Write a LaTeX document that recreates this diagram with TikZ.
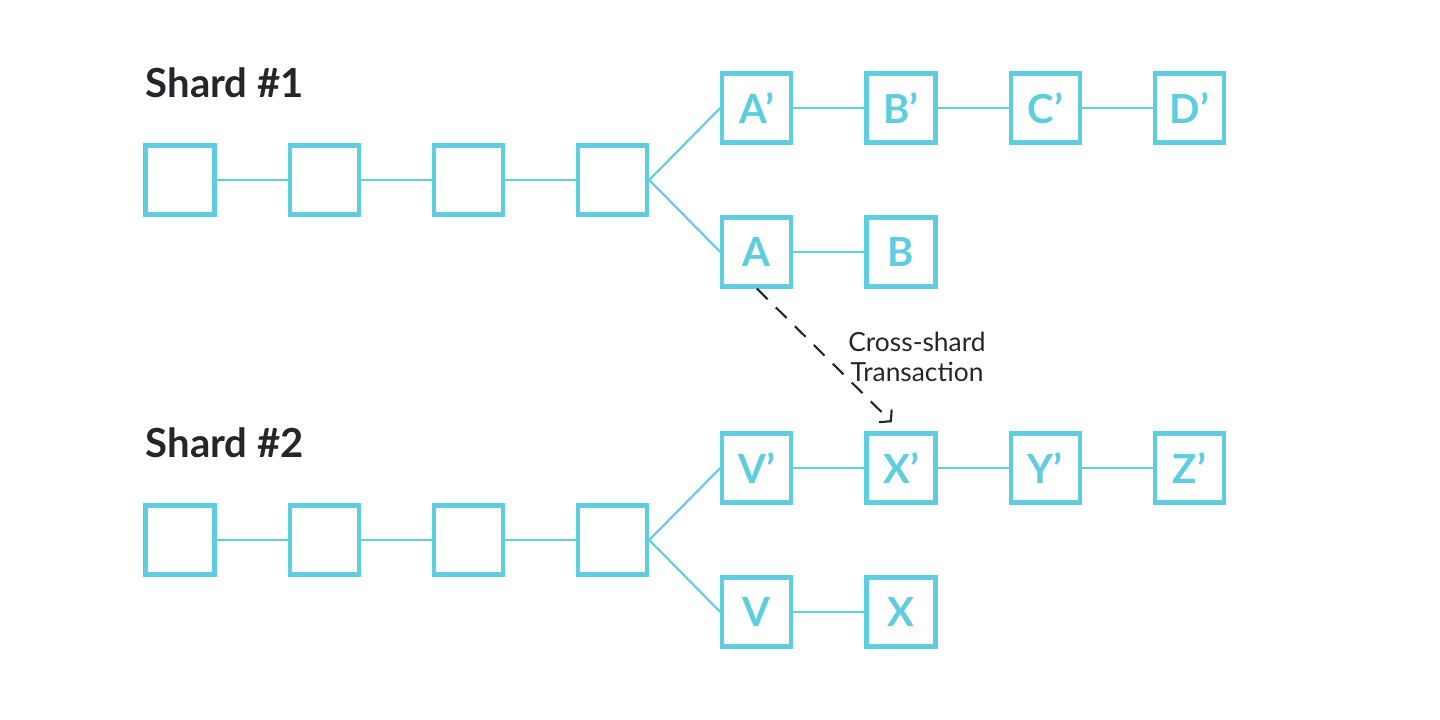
\documentclass[tikz,border=0pt]{standalone}
\usepackage{fontspec}
\setmainfont{Lato}
\usetikzlibrary{arrows.meta,positioning}

\definecolor{shardcyan}{RGB}{94,205,224}
\definecolor{shardink}{RGB}{36,38,41}

\begin{document}
\begin{tikzpicture}[
    node distance=0.71cm,
    blk/.style={rectangle, draw=shardcyan, line width=1.2pt, minimum size=0.69cm, inner sep=0pt,
        text=shardcyan, font=\fontsize{11.4}{13}\selectfont\bfseries},
    link/.style={draw=shardcyan, line width=0.6pt},
    shardlabel/.style={anchor=base west, inner sep=0pt, text=shardink, font=\fontsize{11.4}{13}\selectfont\bfseries},
    xtx/.style={draw=shardink, line width=0.6pt, dash pattern=on 4.3pt off 3.3pt,
        -{Straight Barb[angle=90:3pt 1, length=2.2pt, line width=0.6pt]}, shorten >=0.13cm}
]
    \useasboundingbox (0,0) rectangle (14.4,-7.2);

    % shard 1
    \node[shardlabel] (lbl1) at (1.45,-0.98) {Shard \#1};
    \node[blk] (s1b1) at (1.8,-1.8) {};
    \node[blk, right=of s1b1] (s1b2) {};
    \node[blk, right=of s1b2] (s1b3) {};
    \node[blk, right=of s1b3] (s1b4) {};
    \node[blk, right=of s1b4, yshift=0.72cm] (ap) {A’};
    \node[blk, right=of ap] (bp) {B’};
    \node[blk, right=of bp] (cp) {C’};
    \node[blk, right=of cp] (dp) {D’};
    \node[blk, right=of s1b4, yshift=-0.72cm] (a) {A};
    \node[blk, right=of a] (b) {B};
    \draw[link] (s1b1) -- (s1b2) -- (s1b3) -- (s1b4);
    \draw[link] (s1b4.east) -- (ap.west);
    \draw[link] (s1b4.east) -- (a.west);
    \draw[link] (ap) -- (bp) -- (cp) -- (dp);
    \draw[link] (a) -- (b);

    % shard 2
    \node[shardlabel] (lbl2) at (1.45,-4.58) {Shard \#2};
    \node[blk] (s2b1) at (1.8,-5.4) {};
    \node[blk, right=of s2b1] (s2b2) {};
    \node[blk, right=of s2b2] (s2b3) {};
    \node[blk, right=of s2b3] (s2b4) {};
    \node[blk, right=of s2b4, yshift=0.72cm] (vp) {V’};
    \node[blk, right=of vp] (xp) {X’};
    \node[blk, right=of xp] (yp) {Y’};
    \node[blk, right=of yp] (zp) {Z’};
    \node[blk, right=of s2b4, yshift=-0.72cm] (v) {V};
    \node[blk, right=of v] (x) {X};
    \draw[link] (s2b1) -- (s2b2) -- (s2b3) -- (s2b4);
    \draw[link] (s2b4.east) -- (vp.west);
    \draw[link] (s2b4.east) -- (v.west);
    \draw[link] (vp) -- (xp) -- (yp) -- (zp);
    \draw[link] (v) -- (x);

    % cross-shard transaction
    \draw[xtx] (a.south) -- (xp.north);
    \node[align=center, text=shardink, font=\fontsize{7.5}{8.5}\selectfont] (txlbl) at (9.17,-3.57) {Cross-shard\\Transaction};
\end{tikzpicture}
\end{document}
